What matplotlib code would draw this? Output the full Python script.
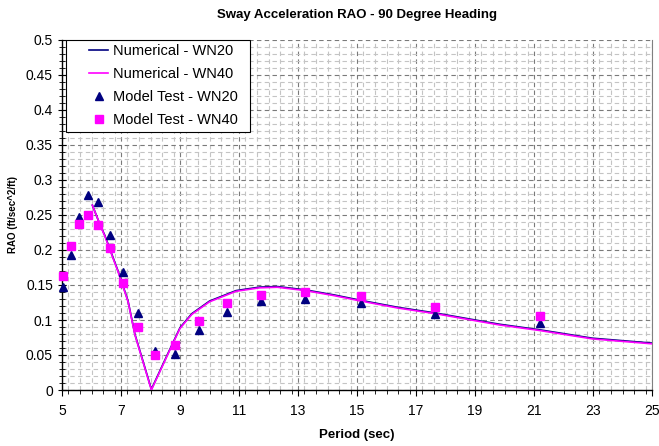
import matplotlib
matplotlib.use("Agg")
import matplotlib.pyplot as plt
import numpy as np
from matplotlib.ticker import MultipleLocator, FixedLocator
from matplotlib.legend_handler import HandlerLine2D

plt.rcParams['font.family'] = ['Liberation Sans', 'DejaVu Sans']

# Numerical results (period in sec, RAO)
num_period = [6.03, 6.29, 6.45, 6.9, 7.24, 7.47, 8.03, 8.6, 9.0, 9.4, 10.0, 10.9,
              11.7, 12.3, 13.25, 14.2, 15.14, 16.4, 17.66, 19.14, 19.82, 21.19, 22.98, 25.0]
num_wn20 = [0.264, 0.236, 0.221, 0.170, 0.127, 0.080, 0.001, 0.053, 0.089, 0.109, 0.127, 0.142,
            0.147, 0.1478, 0.143, 0.136, 0.128, 0.118, 0.110, 0.099, 0.094, 0.086, 0.074, 0.067]
num_wn40 = [0.264, 0.236, 0.220, 0.169, 0.126, 0.079, 0.000, 0.052, 0.088, 0.108, 0.126, 0.141,
            0.146, 0.1468, 0.142, 0.135, 0.127, 0.117, 0.109, 0.098, 0.093, 0.085, 0.073, 0.066]

# Model test results
test_period = [5.04, 5.29, 5.58, 5.89, 6.23, 6.62, 7.06, 7.56, 8.16, 8.82, 9.65, 10.6,
               11.76, 13.25, 15.14, 17.66, 21.19]
test_wn20 = [0.147, 0.193, 0.247, 0.279, 0.268, 0.222, 0.168, 0.110, 0.056, 0.052, 0.086, 0.112,
             0.127, 0.130, 0.124, 0.108, 0.096]
test_wn40 = [0.163, 0.206, 0.237, 0.250, 0.236, 0.203, 0.153, 0.090, 0.050, 0.065, 0.099, 0.124,
             0.136, 0.140, 0.134, 0.119, 0.106]

x_ticks = [5, 7, 9, 11, 13, 15, 17, 19, 21, 23, 25]
y_ticks = [0, 0.05, 0.1, 0.15, 0.2, 0.25, 0.3, 0.35, 0.4, 0.45, 0.5]
y_tick_labels = ['0', '0.05', '0.1', '0.15', '0.2', '0.25', '0.3', '0.35', '0.4', '0.45', '0.5']


class ShortHandler(HandlerLine2D):
    """Draw the legend key in the right half of the handle box."""
    def get_xdata(self, legend, xdescent, ydescent, width, height, fontsize):
        x0 = -xdescent + width * 0.5
        x1 = -xdescent + width
        return np.array([x0, x1]), np.array([(x0 + x1) / 2])


fig = plt.figure(figsize=(6.59, 4.46), dpi=100)
ax = fig.add_axes([62/659, 1 - 390/446, 590/659, 350/446])

ax.set_xlim(5, 25)
ax.set_ylim(0, 0.5)

ax.xaxis.set_major_locator(FixedLocator(x_ticks))
ax.xaxis.set_minor_locator(MultipleLocator(0.4))
ax.yaxis.set_major_locator(FixedLocator(y_ticks))
ax.set_yticklabels(y_tick_labels)
ax.yaxis.set_minor_locator(MultipleLocator(0.01))

ax.grid(which='minor', color='#c4c4c4', linestyle=(0, (4, 3)), linewidth=0.8)
ax.grid(which='major', color='#7a7a7a', linestyle=(0, (4, 3)), linewidth=0.8)
ax.set_axisbelow(True)

l1, = ax.plot(num_period, num_wn20, color='#000080', lw=1.2, label='Numerical - WN20', zorder=3)
l2, = ax.plot(num_period, num_wn40, color='#ff00ff', lw=1.2, label='Numerical - WN40', zorder=3)
m1, = ax.plot(test_period, test_wn20, linestyle='none', marker='^', color='#000080', markersize=6,
              label='Model Test - WN20', zorder=4, clip_on=False)
m2, = ax.plot(test_period, test_wn40, linestyle='none', marker='s', color='#ff00ff', markersize=5.5,
              label='Model Test - WN40', zorder=4, clip_on=False)

for s in ['left', 'bottom']:
    ax.spines[s].set_color('black')
    ax.spines[s].set_linewidth(1.0)
ax.spines['top'].set_visible(False)
ax.spines['right'].set_color('#808080')

ax.tick_params(axis='x', which='major', direction='out', length=4, labelsize=10, pad=6)
ax.tick_params(axis='x', which='minor', direction='out', length=3)
ax.tick_params(axis='y', which='major', direction='inout', length=6, labelsize=10)
ax.tick_params(axis='y', which='minor', direction='inout', length=4)

ax.set_title('Sway Acceleration RAO - 90 Degree Heading', fontsize=9.5, fontweight='bold', pad=16)
ax.set_xlabel('Period (sec)', fontsize=9.5, fontweight='bold', labelpad=8)
ax.set_ylabel('RAO (ft/sec^2/ft)', fontsize=7, fontweight='bold', labelpad=6)

hmap = {h: ShortHandler() for h in (l1, l2, m1, m2)}
leg = ax.legend(handles=[l1, l2, m1, m2], handler_map=hmap,
                loc='upper left', bbox_to_anchor=(4/590, 0.0, 184/590, 1.0), mode='expand',
                fontsize=10.5, frameon=True,
                fancybox=False, edgecolor='black', framealpha=1, borderpad=0.3,
                labelspacing=0.62, handlelength=2.6, handletextpad=0.3, borderaxespad=0.0)
leg.get_frame().set_linewidth(0.8)

fig.savefig('out.png', dpi=100)
